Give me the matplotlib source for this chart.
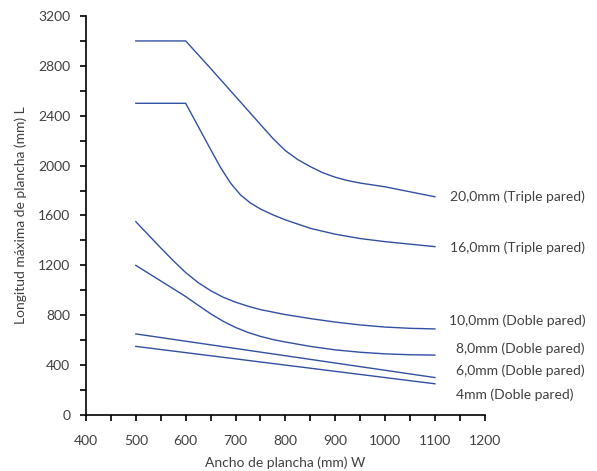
import matplotlib
matplotlib.use("Agg")
import matplotlib.pyplot as plt
from matplotlib.ticker import MultipleLocator

x_20 = [500, 550, 600, 650, 700, 750, 775, 800, 825, 850, 875, 900, 925, 950, 1000, 1050, 1100]
l_20 = [3000, 3000, 3000, 2780, 2555, 2330, 2218, 2120, 2048, 1992, 1943, 1907, 1880, 1860, 1830, 1790, 1750]
x_16 = [500, 550, 600, 625, 650, 670, 690, 710, 730, 750, 775, 800, 850, 900, 950, 1000, 1050, 1100]
l_16 = [2500, 2500, 2500, 2315, 2130, 1985, 1860, 1765, 1700, 1652, 1605, 1565, 1497, 1450, 1415, 1390, 1370, 1350]
x_10 = [500, 525, 550, 575, 600, 625, 650, 675, 700, 725, 750, 800, 850, 900, 950, 1000, 1050, 1100]
l_10 = [1550, 1445, 1340, 1238, 1142, 1062, 997, 945, 905, 872, 845, 805, 773, 745, 722, 705, 695, 690]
x_8 = [500, 550, 600, 625, 650, 675, 700, 725, 750, 775, 800, 850, 900, 950, 1000, 1050, 1100]
l_8 = [1200, 1075, 950, 880, 812, 752, 702, 662, 630, 605, 585, 550, 522, 503, 490, 483, 480]
x_6 = [500, 1100]
l_6 = [650, 300]
x_4 = [500, 1100]
l_4 = [550, 250]

labels = ["20,0mm (Triple pared)", "16,0mm (Triple pared)", "10,0mm (Doble pared)",
          "8,0mm (Doble pared)", "6,0mm (Doble pared)", "4mm (Doble pared)"]
label_y = [1750, 1345, 755, 535, 355, 160]
label_x = [1130, 1130, 1128, 1142, 1142, 1142]

plt.rcParams['font.family'] = ['Lato', 'DejaVu Sans']
txt = '#404040'
col = '#3150a2'

fig = plt.figure(figsize=(5.97, 4.71), dpi=100)
ax = fig.add_axes([0.144, 0.119, 0.668, 0.847])

for xs, ys in [(x_20, l_20), (x_16, l_16), (x_10, l_10), (x_8, l_8), (x_6, l_6), (x_4, l_4)]:
    ax.plot(xs, ys, color=col, lw=1.0)

for lab, lx, ly in zip(labels, label_x, label_y):
    ax.text(lx, ly, lab, ha='left', va='center', fontsize=10, color=txt, clip_on=False)

ax.set_xlim(400, 1200)
ax.set_ylim(0, 3200)
ax.xaxis.set_major_locator(MultipleLocator(100))
ax.xaxis.set_minor_locator(MultipleLocator(50))
ax.yaxis.set_major_locator(MultipleLocator(400))
ax.yaxis.set_minor_locator(MultipleLocator(200))
for s in ['top', 'right']:
    ax.spines[s].set_visible(False)
for s in ['left', 'bottom']:
    ax.spines[s].set_color('black')
    ax.spines[s].set_linewidth(1.2)
ax.tick_params(which='both', direction='out', length=4.3, width=1.2, color='black',
               labelsize=10, labelcolor=txt)
ax.tick_params(axis='x', pad=10)
ax.tick_params(axis='y', pad=7)
ax.set_xlabel("Ancho de plancha (mm) W", fontsize=10, color=txt, labelpad=7)
ax.set_ylabel("Longitud máxima de plancha (mm) L", fontsize=10, color=txt, labelpad=8)

fig.savefig("out.png", dpi=100)
